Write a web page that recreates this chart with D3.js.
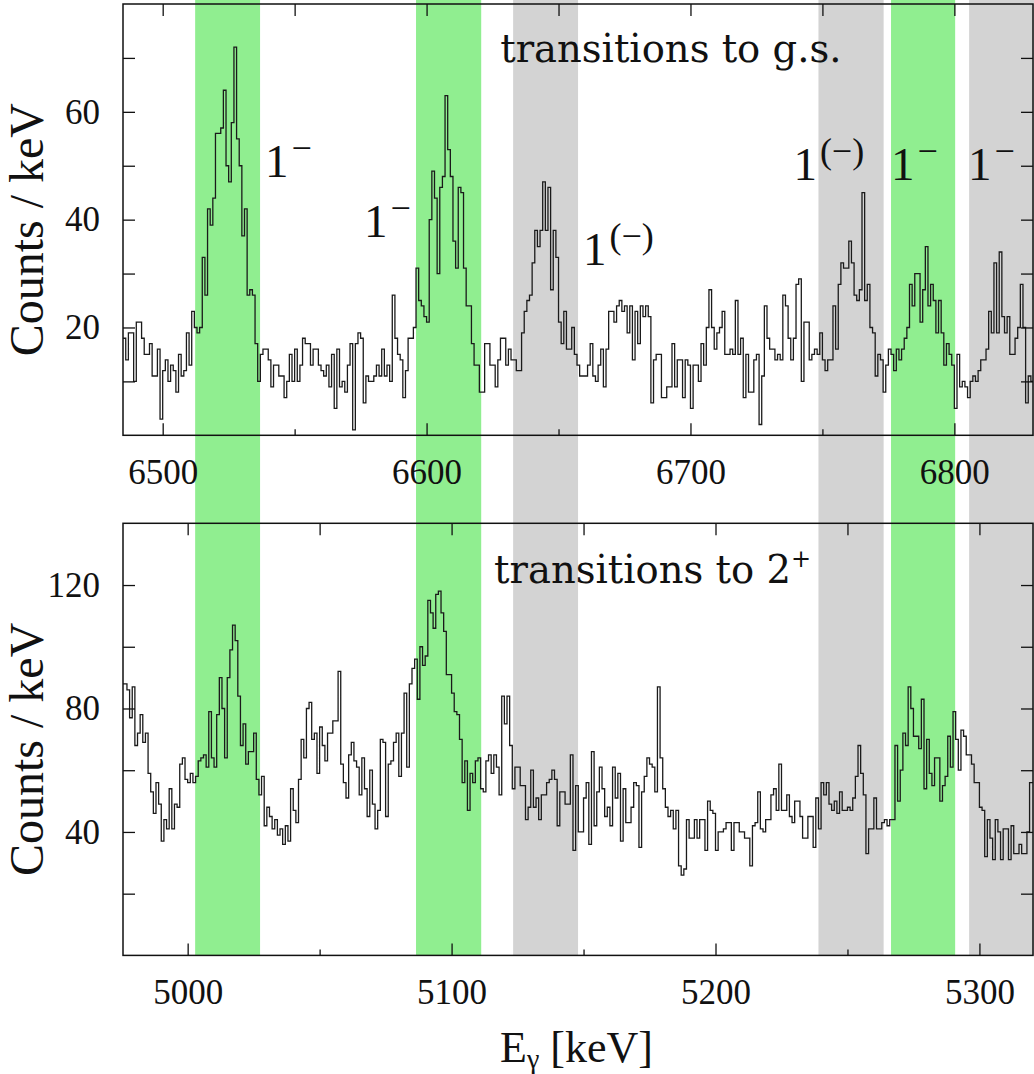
<!DOCTYPE html>
<html>
<head>
<meta charset="utf-8">
<script src="https://cdn.jsdelivr.net/npm/d3@7"></script>
<style>
  body { margin: 0; background: #fff; }
</style>
</head>
<body>
<div id="chart"></div>
<script>
// Counts per 1 keV bin, transitions to the ground state (first bin starts at gsFirstBin keV)
var gsFirstBin = 6485;
var gsCounts = [
  18,14,19,19,10,21,21,18,15,15,17,11,11,16,3,
  12,14,10,13,12,8,15,11,12,19,13,23,20,19,
  20,33,26,42,39,44,56,56,57,64,50,47,58,72,55,50,37,42,26,27,26,17,10,
  15,16,16,14,9,13,13,11,11,7,10,15,10,16,10,13,18,17,17,13,16,16,13,12,11,13,9,15,5,16,9,10,8,13,17,1,17,19,18,6,11,10,10,11,13,11,16,11,13,10,26,
  18,15,14,7,12,18,18,20,31,25,24,22,21,
  40,49,44,30,46,48,63,53,48,36,31,46,45,31,24,
  24,17,13,13,8,8,17,17,13,13,9,14,18,18,13,16,14,14,12,
  12,19,23,25,26,
  32,38,35,38,47,38,46,27,38,33,21,17,23,16,16,20,15,13,11,11,11,13,17,
  11,10,13,16,9,16,23,23,21,24,25,23,24,19,24,14,23,17,24,22,24,22,6,14,15,15,7,7,9,9,17,9,14,14,7,14,13,5,13,13,10,17,13,20,27,20,16,19,20,23,15,15,16,
  15,25,15,18,7,15,8,8,14,15,
  2,11,24,18,16,16,14,15,14,26,
  24,18,14,18,28,29,10,21,21,14,
  15,16,15,19,14,12,14,14,24,16,
  28,32,31,31,36,32,26,25,27,45,
  25,28,20,19,11,15,14,8,13,16,
  15,12,16,14,16,18,20,28,24,30,
  30,21,27,35,24,28,25,19,25,19,
  13,17,15,13,5,15,9,10,9,7,
  10,11,10,12,14,14,16,23,19,32,
  19,34,22,19,22,15,15,18,20,28,
  20,6,11,10,10
];

// Counts per 1 keV bin, transitions to the 2+ state
var exFirstBin = 4975;
var exCounts = [
  88,
  88,86,77,87,68,72,78,69,72,59,
  53,46,56,49,37,44,41,54,41,49,
  48,62,64,57,56,59,56,58,63,64,
  65,61,79,64,61,78,90,80,64,90,
  99,107,102,84,68,75,62,66,66,72,
  57,52,58,42,48,45,41,44,39,41,
  36,42,37,54,47,43,57,70,64,80,
  82,70,72,59,74,68,63,72,72,76,
  76,92,62,56,51,65,69,63,61,52,
  64,54,45,60,49,41,47,70,69,45,
  62,63,69,72,58,72,85,61,88,93,
  96,83,100,94,97,115,111,106,117,118,
  111,105,91,91,85,79,78,70,56,63,
  47,59,56,63,64,54,53,63,65,59,
  65,61,52,84,75,84,68,54,61,61,
  55,55,44,48,60,48,51,44,52,52,
  56,57,60,57,42,53,53,49,49,65,
  34,55,40,40,51,56,36,66,42,53,
  61,54,45,48,42,61,51,59,37,54,
  43,43,48,56,55,35,53,58,64,62,
  61,53,87,64,54,48,45,47,41,47,
  29,26,28,44,38,38,44,38,44,44,
  34,50,47,46,34,40,40,41,43,43,
  34,43,43,
  40,40,38,38,29,42,43,
  53,41,40,44,44,52,54,47,62,47,
  47,52,45,43,50,50,45,38,38,45,
  45,35,51,41,56,52,56,49,47,50,
  46,53,47,47,48,47,51,58,68,59,
  52,33,41,41,51,41,41,43,44,42,
  44,44,68,50,60,72,68,87,80,71,
  71,67,83,54,70,59,55,64,64,50,
  55,58,71,61,79,70,60,73,71,65,
  65,62,56,56,48,47,32,44,38,31,
  44,40,31,41,41,31,42,33,33,36,
  33,33,40,56,56
];

// Axis ticks and labels
var gsXTicks = [6500, 6550, 6600, 6650, 6700, 6750, 6800];
var gsXLabels = [6500, 6600, 6700, 6800];
var exXTicks = [5000, 5050, 5100, 5150, 5200, 5250, 5300];
var exXLabels = [5000, 5100, 5200, 5300];
var gsYTicks = [10, 20, 30, 40, 50, 60, 70];
var gsYLabels = [20, 40, 60];
var exYTicks = [20, 40, 60, 80, 100, 120];
var exYLabels = [40, 80, 120];

// Shaded energy windows (g.s. energy scale, keV) and whether the assignment is firm
var bandFrom = [6512.3, 6596.0, 6632.8, 6748.5, 6776.0, 6805.6];
var bandTo = [6536.9, 6620.7, 6657.4, 6773.2, 6800.3, 6830.2];
var bandFirm = [true, true, false, false, true, false];

// Spin-parity labels (g.s. keV, counts) and their superscripts
var labelE = [6538.8, 6576.3, 6659.3, 6739.0, 6776.0, 6805.2];
var labelCount = [47.9, 36.8, 31.6, 47.4, 47.4, 47.4];
var labelSup = ["\u2212", "\u2212", "(\u2212)", "(\u2212)", "\u2212", "\u2212"];

// pick a Times-like face if there is one, otherwise DejaVu Serif at a smaller size
function hasFont(name) {
  var ctx = document.createElement("canvas").getContext("2d");
  ctx.font = "40px monospace";
  var a = ctx.measureText("6500 Counts / keV").width;
  ctx.font = `40px '${name}', monospace`;
  var b = ctx.measureText("6500 Counts / keV").width;
  return Math.abs(a - b) > 0.5;
}
var timesLike = hasFont("Liberation Serif");
var serif = timesLike ? "'Liberation Serif', serif" : "'DejaVu Serif', serif";
var fs = timesLike ? 1 : 0.82;

// Define SVG area dimensions
var svgWidth = 1034;
var svgHeight = 1074;

var svg = d3.select("#chart")
  .append("svg")
  .attr("width", svgWidth)
  .attr("height", svgHeight);

svg.append("rect")
  .attr("width", svgWidth)
  .attr("height", svgHeight)
  .attr("fill", "#fff");

// Scales for the two panels (both share the same horizontal extent)
var xGs = d3.scaleLinear().domain([6484.96, 6829.8]).range([123, 1033]);
var yGs = d3.scaleLinear().domain([0, 80]).range([435.3, 4]);
var xEx = d3.scaleLinear().domain([4975.5, 5320.3]).range([123, 1033]);
var yEx = d3.scaleLinear().domain([0, 140]).range([955.4, 523.3]);

// Shaded windows run through both panels
svg.append("g").selectAll("rect")
  .data(bandFrom)
  .enter()
  .append("rect")
  .attr("x", (d, i) => xGs(d))
  .attr("width", (d, i) => xGs(bandTo[i]) - xGs(d))
  .attr("y", 0)
  .attr("height", yEx(0))
  .attr("fill", (d, i) => bandFirm[i] ? "#90ee90" : "#d3d3d3");

var tickFont = 35 * fs;

function drawPanel(id, x, y, firstBin, counts, xTicks, xLabels, yTicks, yLabels) {
  var x0 = x.range()[0], x1 = x.range()[1];
  var yb = y.range()[0], yt = y.range()[1];

  svg.append("clipPath")
    .attr("id", id)
    .append("rect")
    .attr("x", x0).attr("y", yt)
    .attr("width", x1 - x0).attr("height", yb - yt);

  // step histogram
  var pts = counts.map((c, i) => [firstBin + i, c]);
  pts.push([firstBin + counts.length, counts[counts.length - 1]]);
  var line = d3.line()
    .x(d => x(d[0]))
    .y(d => y(d[1]))
    .curve(d3.curveStepAfter);

  svg.append("path")
    .datum(pts)
    .attr("clip-path", `url(#${id})`)
    .attr("d", line)
    .attr("fill", "none")
    .attr("stroke", "#1a1a1a")
    .attr("stroke-width", 1.3);

  // bottom axis: labelled majors, short minors
  svg.append("g")
    .attr("transform", `translate(0, ${yb})`)
    .call(d3.axisBottom(x).tickValues(xTicks).tickSizeInner(-12).tickSizeOuter(0)
      .tickPadding(49 - 0.71 * tickFont)
      .tickFormat(d => xLabels.includes(d) ? d : ""))
    .call(g => g.select(".domain").remove())
    .call(g => g.selectAll(".tick line").attr("y2", d => xLabels.includes(d) ? -12 : -6))
    .attr("font-family", serif)
    .attr("font-size", tickFont);

  // top axis
  svg.append("g")
    .attr("transform", `translate(0, ${yt})`)
    .call(d3.axisTop(x).tickValues(xTicks).tickSizeInner(-12).tickSizeOuter(0).tickFormat(""))
    .call(g => g.select(".domain").remove());

  // left axis
  svg.append("g")
    .attr("transform", `translate(${x0}, 0)`)
    .call(d3.axisLeft(y).tickValues(yTicks).tickSizeInner(-12).tickSizeOuter(0).tickPadding(23)
      .tickFormat(d => yLabels.includes(d) ? d : ""))
    .call(g => g.select(".domain").remove())
    .attr("font-family", serif)
    .attr("font-size", tickFont);

  // right axis
  svg.append("g")
    .attr("transform", `translate(${x1}, 0)`)
    .call(d3.axisRight(y).tickValues(yTicks).tickSizeInner(-12).tickSizeOuter(0).tickFormat(""))
    .call(g => g.select(".domain").remove());

  svg.selectAll(".tick line").attr("stroke", "#111").attr("stroke-width", 1.3);
  svg.selectAll(".tick text").attr("fill", "#111");

  // frame
  svg.append("rect")
    .attr("x", x0).attr("y", yt)
    .attr("width", x1 - x0).attr("height", yb - yt)
    .attr("fill", "none")
    .attr("stroke", "#111")
    .attr("stroke-width", 1.5);

  // y axis title
  svg.append("text")
    .attr("transform", `translate(43, ${(yt + yb) / 2 + 10}) rotate(-90)`)
    .attr("text-anchor", "middle")
    .attr("font-family", serif)
    .attr("font-size", 48 * fs)
    .attr("fill", "#111")
    .text("Counts / keV");
}

drawPanel("clipGs", xGs, yGs, gsFirstBin, gsCounts, gsXTicks, gsXLabels, gsYTicks, gsYLabels);
drawPanel("clipEx", xEx, yEx, exFirstBin, exCounts, exXTicks, exXLabels, exYTicks, exYLabels);

// Panel captions
svg.append("text")
  .attr("x", xGs(6627.9))
  .attr("y", yGs(69.2))
  .attr("font-family", "'DejaVu Serif', serif")
  .attr("font-size", 38.5)
  .attr("fill", "#111")
  .text("transitions to g.s.");

var cap2 = svg.append("text")
  .attr("x", xEx(5116.1))
  .attr("y", yEx(120.7))
  .attr("font-family", "'DejaVu Serif', serif")
  .attr("font-size", 38.5)
  .attr("fill", "#111")
  .text("transitions to 2");
cap2.append("tspan")
  .attr("font-size", 24)
  .attr("dy", -16)
  .text("+");

// Spin-parity labels
var labels = svg.append("g").selectAll("text")
  .data(labelE)
  .enter()
  .append("text")
  .attr("x", d => xGs(d))
  .attr("y", (d, i) => yGs(labelCount[i]))
  .attr("font-family", serif)
  .attr("font-size", 47 * fs)
  .attr("fill", "#111");
labels.append("tspan").text("1");
labels.append("tspan")
  .attr("font-size", 36 * fs)
  .attr("dx", 3)
  .attr("dy", -17)
  .text((d, i) => labelSup[i]);

// x axis title
var xTitle = svg.append("text")
  .attr("x", 500)
  .attr("y", 1062)
  .attr("font-family", serif)
  .attr("font-size", 44 * fs)
  .attr("fill", "#111");
xTitle.append("tspan").text("E");
xTitle.append("tspan").attr("font-size", 28 * fs).attr("dy", 6).text("\u03b3");
xTitle.append("tspan").attr("dy", -6).text(" [keV]");
</script>
</body>
</html>
